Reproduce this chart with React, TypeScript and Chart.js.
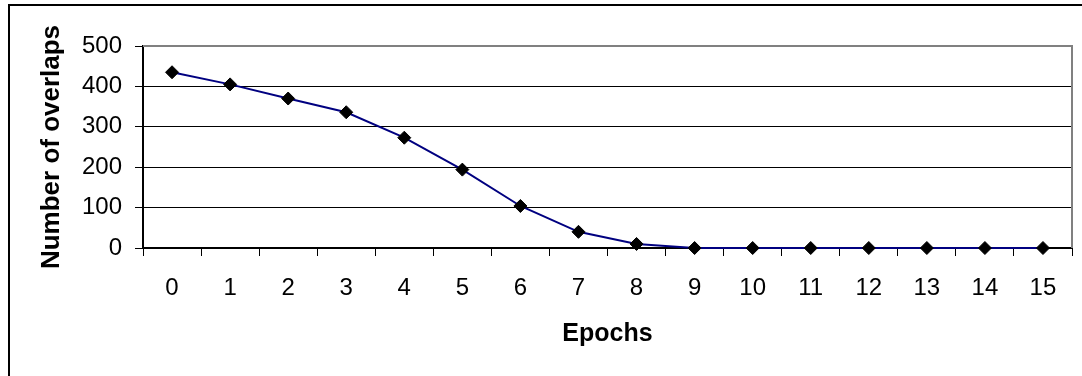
import React, { useEffect, useRef } from 'react';
import { Chart, registerables } from 'chart.js';

Chart.register(...registerables);

const epochs = ['0', '1', '2', '3', '4', '5', '6', '7', '8', '9', '10', '11', '12', '13', '14', '15'];
const overlaps = [435, 405, 370, 336, 273, 194, 104, 40, 10, 0, 0, 0, 0, 0, 0, 0];
const yMin = 0;
const yMax = 500;
const yStep = 100;
const yTitle = 'Number of overlaps';
const xTitle = 'Epochs';

const FONT = '"Liberation Sans", Arial, Helvetica, sans-serif';

const framePlugin = {
  id: 'frame',
  beforeDraw(chart: any) {
    const ctx = chart.ctx;
    ctx.save();
    ctx.fillStyle = '#ffffff';
    ctx.fillRect(0, 0, chart.width, chart.height);
    ctx.fillStyle = '#000000';
    ctx.fillRect(8, 4, chart.width - 8, 2);
    ctx.fillRect(8, 4, 2, chart.height - 4);
    ctx.restore();
  },
  beforeDatasetsDraw(chart: any) {
    const ctx = chart.ctx;
    const { top, right, bottom, left } = chart.chartArea;
    ctx.save();
    ctx.fillStyle = '#808080';
    ctx.fillRect(left, top - 1, right - left + 1, 2);
    ctx.fillRect(right - 1, top - 1, 2, bottom - top + 1);
    ctx.restore();
  },
};

export default function App() {
  const canvasRef = useRef<HTMLCanvasElement | null>(null);

  useEffect(() => {
    const canvas = canvasRef.current;
    if (!canvas) return;
    const chart = new Chart(canvas, {
      type: 'line',
      data: {
        labels: epochs,
        datasets: [
          {
            data: overlaps,
            borderColor: '#000080',
            borderWidth: 2,
            pointStyle: 'rectRot',
            pointRadius: 6.5,
            pointBackgroundColor: '#000000',
            pointBorderColor: '#000000',
            pointBorderWidth: 1,
            tension: 0,
            fill: false,
            clip: false as any,
          },
        ],
      },
      options: {
        animation: false,
        responsive: false,
        devicePixelRatio: 1,
        events: [],
        layout: { padding: { left: 0, top: 46, right: 10, bottom: 0 } },
        plugins: {
          legend: { display: false },
          tooltip: { enabled: false },
          title: { display: false },
        },
        scales: {
          x: {
            type: 'category',
            offset: true,
            grid: {
              offset: true,
              drawOnChartArea: false,
              drawTicks: true,
              tickLength: 8,
              color: '#000000',
              lineWidth: 1,
            },
            border: { display: true, color: '#000000', width: 2 },
            ticks: {
              color: '#000000',
              font: { family: FONT, size: 24 },
              padding: 18,
              maxRotation: 0,
              autoSkip: false,
            },
            title: {
              display: true,
              text: xTitle,
              color: '#000000',
              font: { family: FONT, size: 25, weight: 'bold' },
              padding: { top: 0, bottom: 27 },
            },
            afterFit(scale: any) {
              scale.height = 128;
            },
          },
          y: {
            min: yMin,
            max: yMax,
            ticks: {
              stepSize: yStep,
              color: '#000000',
              font: { family: FONT, size: 24 },
              padding: 13,
            },
            grid: {
              drawOnChartArea: true,
              drawTicks: true,
              tickLength: 8,
              color: (ctx: any) => (ctx.tick && ctx.tick.value === yMax ? 'rgba(0,0,0,0)' : '#000000'),
              tickColor: '#000000',
              lineWidth: 1,
            },
            border: { display: true, color: '#000000', width: 2 },
            title: {
              display: true,
              text: yTitle,
              color: '#000000',
              font: { family: FONT, size: 26, weight: 'bold' },
              padding: { top: 36, bottom: 0 },
            },
            afterFit(scale: any) {
              scale.width = 143;
            },
          },
        },
      },
      plugins: [framePlugin],
    });
    return () => chart.destroy();
  }, []);

  return (
    <div style={{ position: 'fixed', left: 0, top: 0, width: 1082, height: 376, background: '#fff' }}>
      <canvas ref={canvasRef} width={1082} height={376} style={{ display: 'block' }} />
    </div>
  );
}
